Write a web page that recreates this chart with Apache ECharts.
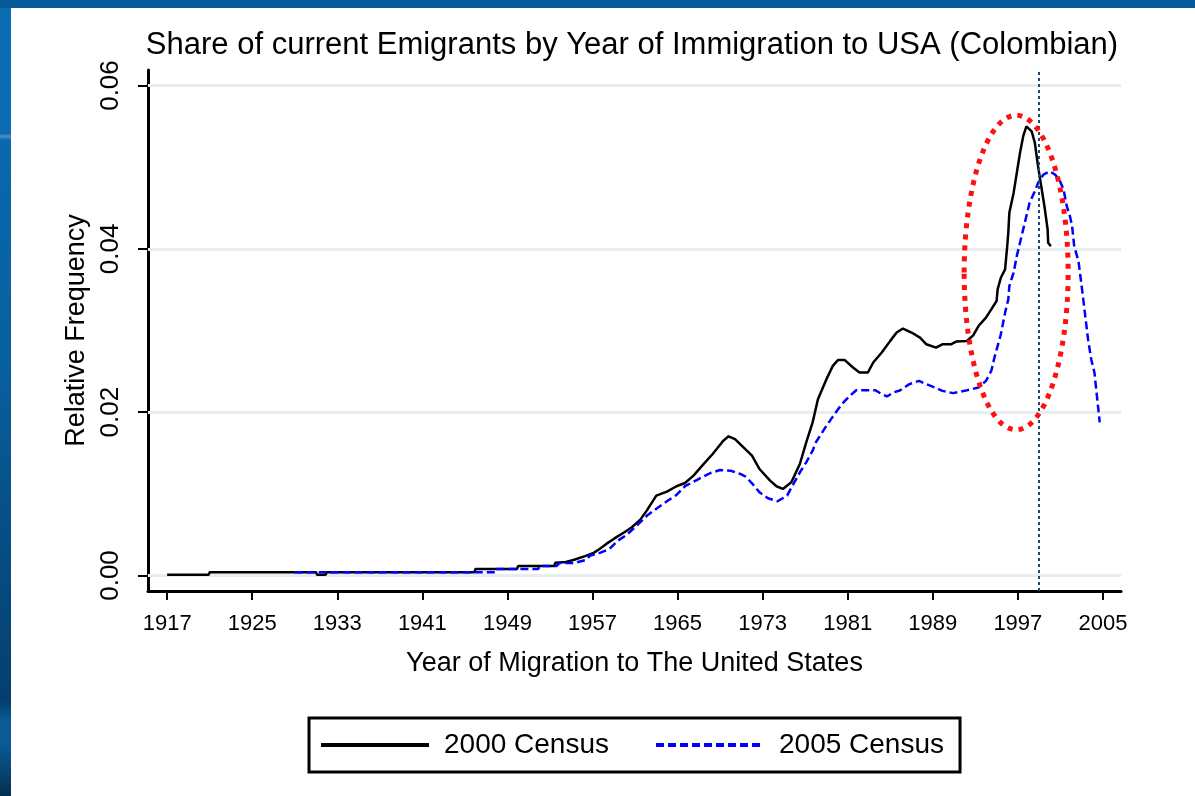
<!DOCTYPE html>
<html>
<head>
<meta charset="utf-8">
<script src="https://cdn.jsdelivr.net/npm/echarts@6/dist/echarts.min.js"></script>
<style>
html,body{margin:0;padding:0;width:1195px;height:796px;overflow:hidden;background:#fff;}
#side{position:absolute;left:0;top:0;width:11px;height:796px;
  background:linear-gradient(to bottom,#0b6cb2 0%,#0b6cb2 16.8%,#4a90c8 17.1%,#0a68ad 17.6%,#08609f 45%,#064c82 70%,#053f6e 88%,#0a5a95 90.5%,#0a5a95 93.5%,#04304f 100%);}
#topbar{position:absolute;left:0;top:0;width:1195px;height:8px;background:#065a99;}
#chart{position:absolute;left:0;top:0;width:1195px;height:796px;}
</style>
</head>
<body>
<div id="side"></div>
<div id="topbar"></div>
<div id="chart"></div>
<script>
// ---- data ----
const TITLE = 'Share of current Emigrants by Year of Immigration to USA (Colombian)';
const X_NAME = 'Year of Migration to The United States';
const Y_NAME = 'Relative Frequency';
const SERIES_NAMES = ['2000 Census', '2005 Census'];

const xTickYears = [1917, 1925, 1933, 1941, 1949, 1957, 1965, 1973, 1981, 1989, 1997, 2005];
const yTickValues = [0, 0.02, 0.04, 0.06];

// 2000 Census
const yearsA = [1917, 1920.9, 1921, 1931, 1931.1, 1931.9, 1932, 1945.9, 1946, 1949.9, 1950, 1953.4, 1953.5,
  1954.5, 1955.2, 1956.3, 1957.1, 1957.6, 1958.3, 1959.1, 1960, 1960.7, 1961.5, 1962.1, 1963, 1964, 1964.9,
  1965.7, 1966.5, 1967.4, 1968.3, 1969.3, 1969.8, 1970.4, 1971.2, 1972, 1972.7, 1973.7, 1974.3, 1974.9, 1975.7,
  1976.5, 1977.1, 1977.7, 1978.2, 1979, 1979.6, 1980.1, 1980.7, 1981.5, 1982.1, 1982.9, 1983.4, 1984.2, 1985,
  1985.6, 1986.2, 1987, 1987.8, 1988.4, 1989.3, 1989.9, 1990.7, 1991.2, 1992.2, 1992.8, 1993.3, 1994, 1994.5,
  1995, 1995.1, 1995.4, 1995.8, 1996, 1996.1, 1996.2, 1996.6, 1996.9, 1997.2, 1997.5, 1997.8, 1998.3, 1998.6,
  1998.9, 1999.2, 1999.5, 1999.8, 1999.85, 2000.1];
const valuesA = [0.0001, 0.0001, 0.0004, 0.0004, 0.0001, 0.0001, 0.0004, 0.0004, 0.0008, 0.0008, 0.00115, 0.00115, 0.00155,
  0.00165, 0.0019, 0.00237, 0.00277, 0.00318, 0.00387, 0.00457, 0.0053, 0.00591, 0.00684, 0.00794, 0.00978, 0.01027, 0.01093,
  0.01133, 0.01223, 0.01357, 0.01488, 0.0165, 0.01704, 0.01671, 0.01569, 0.01467, 0.01304, 0.01161, 0.01093, 0.0106, 0.01141,
  0.01365, 0.0163, 0.01875, 0.02159, 0.02404, 0.02567, 0.0264, 0.0264, 0.02547, 0.02486, 0.02486, 0.02608, 0.0273, 0.02873,
  0.02975, 0.03024, 0.02975, 0.02913, 0.02831, 0.02791, 0.02831, 0.02831, 0.02864, 0.02872, 0.02941, 0.03055, 0.03158, 0.03259,
  0.03361, 0.03503, 0.03646, 0.03748, 0.04033, 0.04195, 0.04441, 0.04685, 0.04929, 0.05174, 0.05377, 0.05499, 0.05438, 0.05296,
  0.0501, 0.04766, 0.04522, 0.04237, 0.04074, 0.04033];

// 2005 Census
const yearsB = [1929, 1947.9, 1948, 1951.9, 1952, 1953.6, 1953.9, 1955.3, 1956.4, 1956.8, 1957.7, 1958.6, 1959.4,
  1960.2, 1961, 1962.2, 1963.2, 1964, 1964.9, 1965.7, 1966.8, 1967.6, 1968.1, 1969, 1970, 1970.9, 1971.4, 1972,
  1972.7, 1973.5, 1974.4, 1975.3, 1975.9, 1976.6, 1977.1, 1977.7, 1978, 1978.4, 1978.9, 1979.5, 1980.1, 1980.6,
  1981.2, 1981.8, 1983.6, 1984.1, 1984.7, 1985.3, 1985.9, 1986.8, 1987.7, 1988.4, 1989.2, 1989.9, 1990.9, 1992,
  1993.3, 1994, 1994.5, 1994.8, 1995.1, 1995.4, 1995.8, 1996.1, 1996.2, 1996.6, 1996.9, 1997.2, 1997.5, 1997.8,
  1998.1, 1998.6, 1998.9, 1999.4, 2000, 2000.5, 2000.9, 2001.3, 2001.6, 2001.9, 2002.1, 2002.3, 2002.7, 2003,
  2003.3, 2003.6, 2003.9, 2004.2, 2004.4, 2004.7];
const valuesB = [0.0004, 0.0004, 0.0008, 0.0008, 0.00115, 0.00115, 0.00152, 0.00152, 0.00192, 0.00245, 0.00277, 0.00326, 0.00428,
  0.00497, 0.00591, 0.00742, 0.00836, 0.00909, 0.00986, 0.01093, 0.01169, 0.01222, 0.01255, 0.01292, 0.01283, 0.01243, 0.0121, 0.01129,
  0.01019, 0.00946, 0.00909, 0.00978, 0.01121, 0.01283, 0.01386, 0.01528, 0.0163, 0.01711, 0.01813, 0.01927, 0.02037, 0.02119,
  0.022, 0.02269, 0.02269, 0.02229, 0.02192, 0.02241, 0.02265, 0.02343, 0.02383, 0.02343, 0.02302, 0.02261, 0.02233, 0.02261,
  0.02302, 0.02383, 0.02505, 0.02669, 0.02811, 0.02954, 0.03219, 0.03381, 0.03544, 0.03708, 0.03911, 0.04074, 0.04237, 0.044,
  0.04563, 0.04705, 0.04807, 0.04909, 0.04949, 0.04909, 0.04848, 0.04726, 0.04522, 0.044, 0.04278, 0.04033, 0.0385, 0.03544,
  0.03219, 0.02893, 0.02648, 0.02486, 0.02241, 0.01875];

// annotations (data coordinates)
const markerYear = 1999;
const ellipseCenter = [1996.84, 0.0371];
const ellipseHalf = [4.89, 0.01925];

// ---- chart ----
const FONT = "'Liberation Sans', Arial, Helvetica, sans-serif";
const chart = echarts.init(document.getElementById('chart'), null, { renderer: 'canvas' });

const option = {
  animation: false,
  backgroundColor: 'transparent',
  title: {
    text: TITLE, left: 632, top: 30, textAlign: 'center', padding: 0,
    textStyle: { fontFamily: FONT, fontSize: 31, fontWeight: 'normal', color: '#000' }
  },
  legend: {
    data: SERIES_NAMES, left: 309, top: 718, orient: 'horizontal',
    padding: [13, 16, 13, 10], borderColor: '#000', borderWidth: 3, borderRadius: 0,
    backgroundColor: '#fff', itemWidth: 108, itemHeight: 14, itemGap: 45,
    lineStyle: { width: 4 },
    itemStyle: { opacity: 0 },
    textStyle: { fontFamily: FONT, fontSize: 28, color: '#000', padding: [0, 0, 0, 10] }
  },
  grid: { left: 148, right: 74, top: 70, bottom: 205 },
  xAxis: {
    type: 'value', min: 1915.2, max: 2006.7,
    name: X_NAME, nameLocation: 'middle', nameGap: 59,
    nameTextStyle: { fontFamily: FONT, fontSize: 27, color: '#000' },
    axisLine: { show: true, onZero: false, lineStyle: { color: '#000', width: 3 } },
    axisTick: { show: true, customValues: xTickYears, length: 9, lineStyle: { color: '#000', width: 2 } },
    axisLabel: { customValues: xTickYears, margin: 22, fontFamily: FONT, fontSize: 22, color: '#000',
      formatter: v => String(Math.round(v)) },
    splitLine: { show: false }
  },
  yAxis: {
    type: 'value', min: -0.0019, max: 0.0619,
    name: Y_NAME, nameLocation: 'middle', nameRotate: 90, nameGap: 57,
    nameTextStyle: { fontFamily: FONT, fontSize: 27, color: '#000' },
    axisLine: { show: true, onZero: false, lineStyle: { color: '#000', width: 3 } },
    axisTick: { show: true, customValues: yTickValues, length: 10, lineStyle: { color: '#000', width: 2 } },
    axisLabel: { customValues: yTickValues, rotate: 90, margin: 24, fontFamily: FONT, fontSize: 26, color: '#000',
      formatter: v => Number(v).toFixed(2) },
    splitLine: { show: false }
  },
  series: [
    {
      name: 'grid', type: 'line', data: [], z: 1, silent: true,
      markLine: {
        z: 1, silent: true, symbol: 'none', animation: false, label: { show: false },
        lineStyle: { color: '#e6eef1', width: 3, type: 'solid' },
        data: yTickValues.map(v => ({ yAxis: v }))
      }
    },
    {
      name: SERIES_NAMES[0], type: 'line', symbol: 'none', showSymbol: false, z: 3,
      data: yearsA.map((x, i) => [x, valuesA[i]]),
      lineStyle: { color: '#000', width: 2.5 }, itemStyle: { color: '#000' },
      markLine: {
        silent: true, symbol: 'none', animation: false, label: { show: false },
        lineStyle: { color: '#1d4a75', width: 2, type: [3, 3] },
        data: [{ xAxis: markerYear }]
      }
    },
    {
      name: SERIES_NAMES[1], type: 'line', symbol: 'none', showSymbol: false, z: 4,
      data: yearsB.map((x, i) => [x, valuesB[i]]),
      lineStyle: { color: '#0000ff', width: 2.5, type: [8, 4] }, itemStyle: { color: '#0000ff' }
    }
  ]
};
chart.setOption(option);

const c = chart.convertToPixel({ gridIndex: 0 }, ellipseCenter);
const e = chart.convertToPixel({ gridIndex: 0 }, [ellipseCenter[0] + ellipseHalf[0], ellipseCenter[1] + ellipseHalf[1]]);
chart.setOption({
  graphic: [{
    type: 'ellipse', silent: true, z: 20,
    shape: { cx: c[0], cy: c[1], rx: Math.abs(e[0] - c[0]), ry: Math.abs(e[1] - c[1]) },
    style: { fill: 'none', stroke: '#ff1010', lineWidth: 5, lineDash: [5, 6] }
  }]
});
</script>
</body>
</html>
